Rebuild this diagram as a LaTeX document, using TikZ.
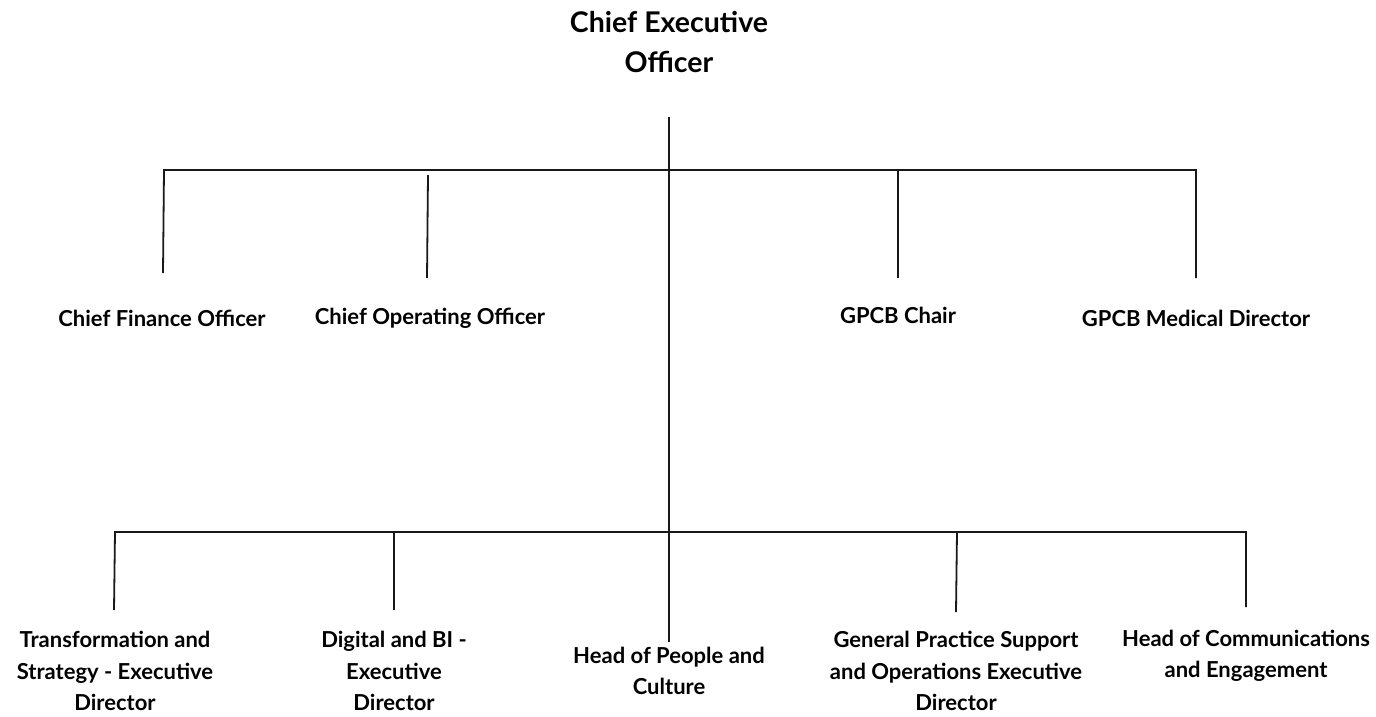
\documentclass[tikz,border=0pt]{standalone}
\usepackage{fontspec}
\setmainfont{Lato}
\begin{document}
\begin{tikzpicture}[x=1pt,y=-1pt,
  conn/.style={draw=black!90, line width=1.8pt},
  lbl/.style={font=\bfseries\fontsize{22}{31.5}\selectfont, align=center, inner sep=0pt},
  ttl/.style={font=\bfseries\fontsize{28.5}{40}\selectfont, align=center, inner sep=0pt}]
\useasboundingbox (0,0) rectangle (1376,717);
% nodes
\node[ttl] (ceo) at (669,42) {Chief Executive\\Officer};
\node[lbl] (cfo) at (162,318) {Chief Finance Officer};
\node[lbl] (coo) at (430,318) {Chief Operating Officer};
\node[lbl] (chair) at (898,315) {GPCB Chair};
\node[lbl] (med) at (1196,318) {GPCB Medical Director};
\node[lbl] (trans) at (115,671) {Transformation and\\Strategy - Executive\\Director};
\node[lbl] (digi) at (394,671) {Digital and BI -\\Executive\\Director};
\node[lbl] (people) at (669,671) {Head of People and\\Culture};
\node[lbl] (gps) at (956,671) {General Practice Support\\and Operations Executive\\Director};
\node[lbl] (comms) at (1246,656) {Head of Communications\\and Engagement};
% junctions
\coordinate (t0) at (669,117);
\coordinate (tl) at (164,170);
\coordinate (tr) at (1196,170);
\coordinate (bl) at (115,532);
\coordinate (br) at (1246,532);
\coordinate (cfoE) at (163,273);
\coordinate (cooS) at (428,175);
\coordinate (cooE) at (427,278);
\coordinate (chairS) at (898,170);
\coordinate (chairE) at (898,278);
\coordinate (medE) at (1196,278);
\coordinate (transE) at (114,610);
\coordinate (digiS) at (394,532);
\coordinate (digiE) at (394,610);
\coordinate (gpsS) at (957,532);
\coordinate (gpsE) at (956,612);
\coordinate (commsE) at (1246,607);
\coordinate (pplE) at (669,642);
% connectors
\draw[conn] (t0) -- (pplE);
\draw[conn] (cfoE) -- (tl) -- (tr) -- (medE);
\draw[conn] (cooS) -- (cooE);
\draw[conn] (chairS) -- (chairE);
\draw[conn] (transE) -- (bl) -- (br) -- (commsE);
\draw[conn] (digiS) -- (digiE);
\draw[conn] (gpsS) -- (gpsE);
\end{tikzpicture}
\end{document}
